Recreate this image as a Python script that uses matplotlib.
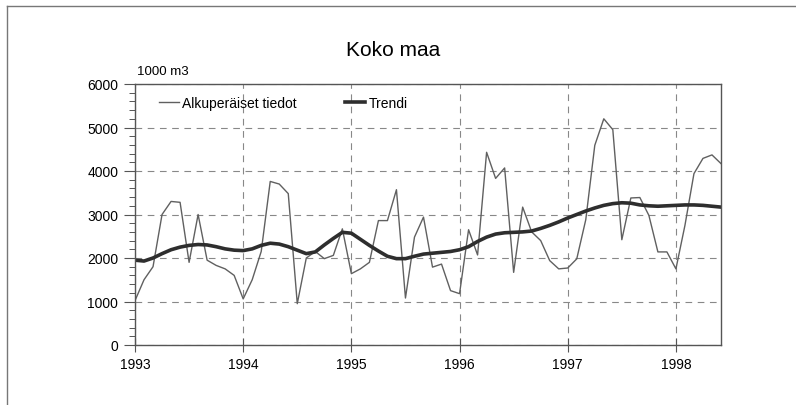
import numpy as np
import matplotlib
matplotlib.use("Agg")
import matplotlib.pyplot as plt
from matplotlib.lines import Line2D

plt.rcParams['font.family'] = ['Liberation Sans', 'DejaVu Sans']

# Kuukausisarja 1/1993 - 6/1998
alku_vuosi = 1993
alkuperaiset = [
    1020, 1500, 1800, 3000, 3300, 3280, 1900, 3000, 1950, 1830, 1750, 1600,
    1060, 1500, 2150, 3760, 3700, 3480, 950, 2000, 2150, 1985, 2060, 2670,
    1640, 1750, 1900, 2860, 2860, 3570, 1080, 2480, 2940, 1790, 1860, 1250,
    1180, 2650, 2070, 4430, 3830, 4070, 1670, 3170, 2600, 2400, 1940, 1750,
    1770, 1980, 2880, 4590, 5200, 4950, 2420, 3380, 3390, 2980, 2140, 2140,
    1750, 2750, 3940, 4290, 4370, 4170,
]
trendi = [
    1950, 1930, 2000, 2100, 2190, 2250, 2290, 2310, 2300, 2260, 2210, 2180,
    2170, 2210, 2290, 2340, 2320, 2260, 2180, 2100, 2140, 2300, 2450, 2590,
    2570, 2430, 2290, 2160, 2040, 1985, 1985, 2040, 2090, 2110, 2130, 2150,
    2190, 2260, 2380, 2480, 2550, 2580, 2590, 2600, 2620, 2680, 2750, 2830,
    2920, 3000, 3080, 3150, 3210, 3250, 3270, 3260, 3220, 3200, 3190, 3200,
    3210, 3220, 3220, 3210, 3190, 3170,
]
vuodet = [1993, 1994, 1995, 1996, 1997, 1998]
y_tikit = [0, 1000, 2000, 3000, 4000, 5000, 6000]

aika = alku_vuosi + np.arange(len(alkuperaiset)) / 12.0

fig = plt.figure(figsize=(7.96, 4.06), dpi=100)
ax = fig.add_axes([135 / 796, 1 - 346 / 406, (721 - 135) / 796, (346 - 85) / 406])

ax.plot(aika, alkuperaiset, color='#606060', lw=1.0, label='Alkuperäiset tiedot')
ax.plot(aika, trendi, color='#2e2e2e', lw=2.6, label='Trendi')

ax.set_xlim(1993, aika[-1])
ax.set_ylim(0, 6000)
ax.set_xticks(vuodet)
ax.set_yticks(y_tikit)
ax.set_yticks(np.arange(0, 6001, 200), minor=True)
ax.tick_params(axis='x', direction='inout', length=10, width=0.8, color='#555555',
               labelsize=10, pad=4)
ax.tick_params(axis='y', which='major', direction='out', length=8, width=0.8,
               color='#555555', labelsize=10, pad=4)
ax.tick_params(axis='y', which='minor', direction='out', length=4, width=0.7,
               color='#555555')
for s in ax.spines.values():
    s.set_color('#555555')
    s.set_linewidth(1.0)

ax.grid(True, which='major', linestyle=(0, (6, 5)), color='#888888', lw=0.8)
ax.set_axisbelow(True)

ax.text(0.003, 1.025, '1000 m3', transform=ax.transAxes, fontsize=9.5,
        ha='left', va='bottom')
fig.text(393 / 796, 1 - 50 / 406, 'Koko maa', fontsize=15, ha='center', va='center')

leg = ax.legend(loc='center left', bbox_to_anchor=(146 / 796, 1 - 104 / 406),
                bbox_transform=fig.transFigure, ncol=2, frameon=False,
                fontsize=10, handlelength=1.45, handletextpad=0.25,
                columnspacing=3.45)

# kehys kuvan ympärillä
fig.add_artist(Line2D([7 / 796, 1], [1 - 7 / 406, 1 - 7 / 406], color='#777777', lw=1.0))
fig.add_artist(Line2D([7 / 796, 7 / 796], [0, 1 - 7 / 406], color='#777777', lw=1.0))

fig.savefig('out.png', dpi=100)
